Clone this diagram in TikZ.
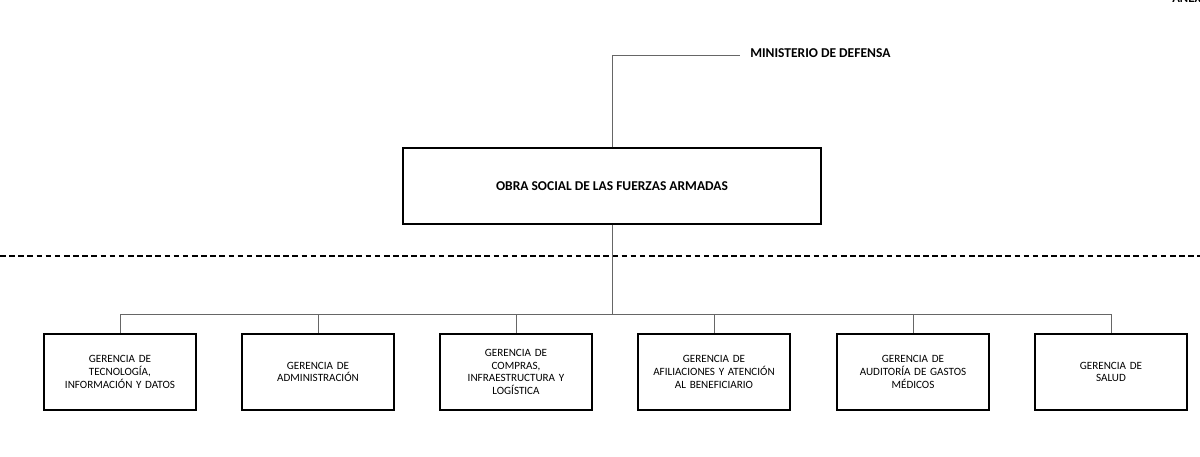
\documentclass[tikz,border=0pt]{standalone}
\usepackage{fontspec}
\setmainfont{Carlito}
\begin{document}
\begin{tikzpicture}[x=0.025cm,y=-0.025cm,
  box/.style={draw,line width=0.8pt,align=center,inner sep=0pt,font=\fontsize{7.9}{9}\selectfont},
  sub/.style={box,minimum width=152*0.025cm,minimum height=76*0.025cm,text width=145*0.025cm},
  ln/.style={draw=black!60,line width=0.6pt}]
\useasboundingbox (0,0) rectangle (1200,456);
\node[anchor=north west,font=\bfseries\small,inner sep=0pt] (an) at (1172,-6) {ANEXO};
\node[box,minimum width=418*0.025cm,minimum height=76*0.025cm,font=\bfseries\fontsize{9.6}{11}\selectfont] (obra) at (612,186) {OBRA SOCIAL DE LAS FUERZAS ARMADAS};
\node[anchor=west,font=\bfseries\fontsize{9.6}{11}\selectfont,inner sep=0pt] (min) at (750,53) {MINISTERIO DE DEFENSA};
\coordinate (mc) at (740,55);
\draw[ln] (obra.north) |- (mc);
\draw[dashed,line width=0.8pt,dash pattern=on 4pt off 2.5pt] (0,256) coordinate (d1) -- (1200,256) coordinate (d2);
\node[sub] (g1) at (120,372) {GERENCIA DE\\TECNOLOGÍA,\\INFORMACIÓN Y DATOS};
\node[sub] (g2) at (318,372) {GERENCIA DE\\ADMINISTRACIÓN};
\node[sub] (g3) at (516,372) {GERENCIA DE\\COMPRAS,\\INFRAESTRUCTURA Y\\LOGÍSTICA};
\node[sub] (g4) at (714,372) {GERENCIA DE\\AFILIACIONES Y ATENCIÓN\\AL BENEFICIARIO};
\node[sub] (g5) at (913,372) {GERENCIA DE\\AUDITORÍA DE GASTOS\\MÉDICOS};
\node[sub] (g6) at (1111,372) {GERENCIA DE\\SALUD};
\coordinate (bus) at (612,314);
\draw[ln] (obra.south) -- (bus);
\foreach \g in {g1,g2,g3,g4,g5,g6}{\draw[ln] (bus) -| (\g.north);}
\end{tikzpicture}
\end{document}
